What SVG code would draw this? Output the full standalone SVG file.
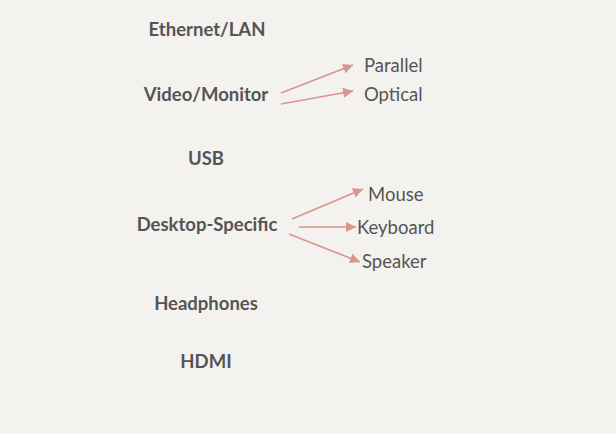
<svg xmlns="http://www.w3.org/2000/svg" width="616" height="434" viewBox="0 0 616 434">
<defs>
<marker id="ah" viewBox="0 0 10 10" refX="10" refY="5" markerWidth="10" markerHeight="10" markerUnits="userSpaceOnUse" orient="auto">
<path d="M0,0 L10,5 L0,10 z" fill="#d8968c"/>
</marker>
<style>
.b{font-family:Lato,"Open Sans",sans-serif;font-weight:bold;font-size:18.5px;fill:#555;text-anchor:middle}
.r{font-family:Lato,"Open Sans",sans-serif;font-size:18.5px;fill:#555}
.c line{stroke:#d8968c;stroke-width:1.6;marker-end:url(#ah)}
</style>
</defs>
<rect width="616" height="434" fill="#f3f2ef"/>
<g id="ethernet"><text class="b" x="207" y="36">Ethernet/LAN</text></g>
<g id="video"><text class="b" x="206" y="101">Video/Monitor</text></g>
<g id="usb"><text class="b" x="206" y="165">USB</text></g>
<g id="desktop"><text class="b" x="207" y="231">Desktop-Specific</text></g>
<g id="headphones"><text class="b" x="206" y="310">Headphones</text></g>
<g id="hdmi"><text class="b" x="206" y="368">HDMI</text></g>
<g id="parallel"><text class="r" x="364" y="72">Parallel</text></g>
<g id="optical"><text class="r" x="364" y="101">Optical</text></g>
<g id="mouse"><text class="r" x="368" y="201">Mouse</text></g>
<g id="keyboard"><text class="r" x="357" y="234">Keyboard</text></g>
<g id="speaker"><text class="r" x="362" y="268">Speaker</text></g>
<g id="connectors" class="c">
<line x1="281" y1="93" x2="353" y2="65"/>
<line x1="281" y1="104" x2="353" y2="91"/>
<line x1="292" y1="219" x2="363" y2="189"/>
<line x1="299" y1="227" x2="356" y2="227"/>
<line x1="289" y1="234" x2="360" y2="262"/>
</g>
</svg>
